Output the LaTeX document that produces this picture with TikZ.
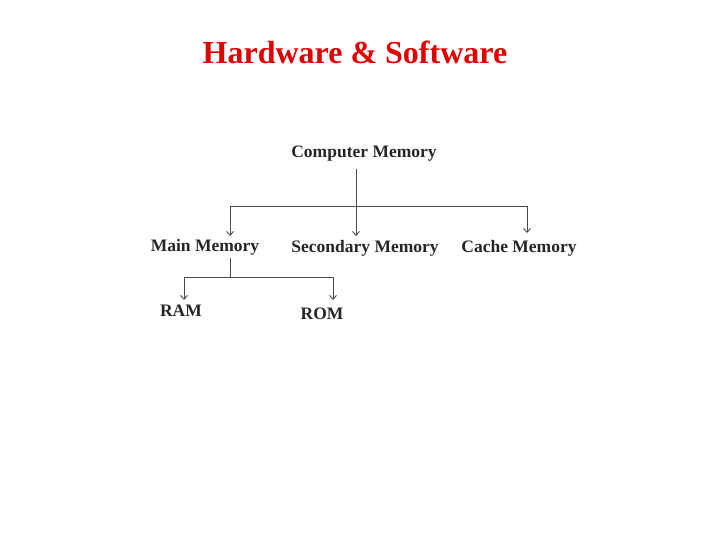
\documentclass[tikz,border=0pt]{standalone}
\usepackage{fontspec}
\setmainfont{Liberation Serif}
\usetikzlibrary{arrows.meta}
\definecolor{titlered}{HTML}{E00000}
\definecolor{linegray}{HTML}{4A4A4A}
\tikzset{
  titletext/.style={font=\fontsize{32}{36}\selectfont\bfseries, text=titlered,
    inner sep=0pt},
  memtext/.style={font=\fontsize{17.5}{20}\selectfont\bfseries, text=black!85,
    inner sep=0pt, yshift=-3pt},
  link/.style={draw=linegray, line width=0.9pt},
  downarrow/.style={link, -{Straight Barb[length=4pt,width=7pt]}},
}

\begin{document}
\begin{tikzpicture}[x=1pt, y=-1pt]
  \useasboundingbox (0,0) rectangle (720,540);
  \node[titletext] (title) at (355,52) {Hardware \& Software};
  % memory tree
  \node[memtext] (root) at (364,151) {Computer Memory};
  \node[memtext] (main) at (205,244) {Main Memory};
  \node[memtext] (sec) at (365,245) {Secondary Memory};
  \node[memtext] (cache) at (519,245) {Cache Memory};
  \node[memtext] (ram) at (181,308) {RAM};
  \node[memtext] (rom) at (322,311) {ROM};
  \coordinate (rootfoot) at (356,169);
  \coordinate (trunk) at (356,206);
  \coordinate (tipmain) at (230,236);
  \coordinate (tipsec) at (356,236);
  \coordinate (tipcache) at (527,233);
  \draw[link] (rootfoot) -- (trunk);
  \draw[downarrow] (trunk) -| (tipmain);
  \draw[downarrow] (trunk) -- (tipsec);
  \draw[downarrow] (trunk) -| (tipcache);
  \coordinate (mainfoot) at (230,258);
  \coordinate (branch) at (230,277);
  \coordinate (tipram) at (184,300);
  \coordinate (tiprom) at (333,300);
  \draw[link] (mainfoot) -- (branch);
  \draw[downarrow] (branch) -| (tipram);
  \draw[downarrow] (branch) -| (tiprom);
\end{tikzpicture}
\end{document}
